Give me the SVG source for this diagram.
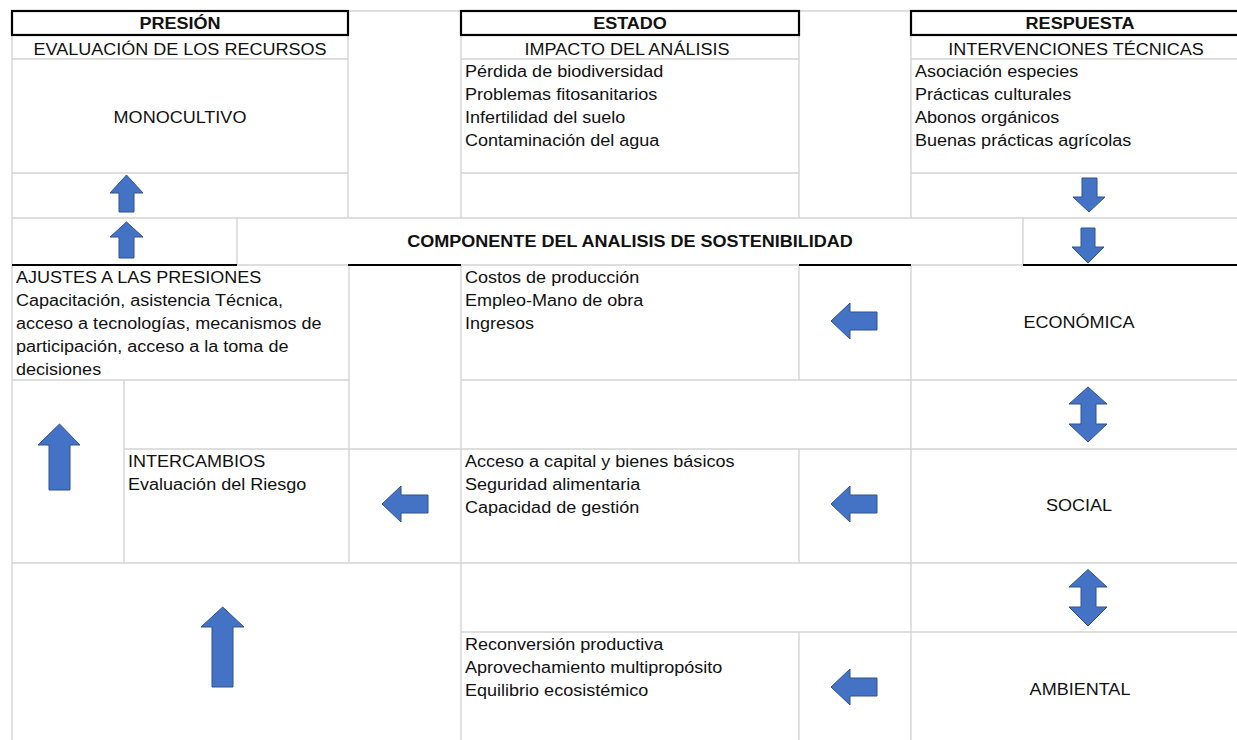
<svg xmlns="http://www.w3.org/2000/svg" width="1237" height="740" viewBox="0 0 1237 740">
<style>
.g{stroke:#d4d4d4;stroke-width:1.4;fill:none}
.k{stroke:#000;stroke-width:2.2;fill:none}
.t{font-family:"Liberation Sans",Arial,sans-serif;font-size:16.4px;fill:#111}
.b{font-weight:bold}
.c{text-anchor:middle}
.arr{fill:#4472C4;stroke:#2F528F;stroke-width:1}
</style>
<rect width="1237" height="740" fill="#fff"/>
<g id="grid">
<path class="g" d="M12 11H1237M12 59H348M461 59H799M911 59H1237M12 173H348M461 173H799M911 173H1237M12 218H1237M237 265H348M461 265H799M911 265H1023M12 380H349M461 380H1237M124 449H1237M12 563H1237M461 632H1237"/>
<path class="g" d="M12 11V740M348 35V218M349 265V563M461 35V218M461 265V740M799 35V218M799 265V380M799 449V563M799 632V740M911 35V218M911 265V740M124 380V563M237 218V265M1023 218V265"/>
<path class="k" d="M12 265H237M348 265H461M799 265H911M1023 265H1237"/>
</g>
<g id="presion-header">
<rect class="k" x="12" y="11" width="336" height="24"/>
<text class="t b c" transform="translate(180,29) scale(1.1,1)">PRESIÓN</text>
</g>
<g id="estado-header">
<rect class="k" x="461" y="11" width="338" height="24"/>
<text class="t b c" transform="translate(630,29) scale(1.1,1)">ESTADO</text>
</g>
<g id="respuesta-header">
<rect class="k" x="911" y="11" width="345" height="24"/>
<text class="t b c" transform="translate(1080,29) scale(1.1,1)">RESPUESTA</text>
</g>
<g id="evaluacion">
<text class="t c" transform="translate(180,55) scale(1.1,1)">EVALUACIÓN DE LOS RECURSOS</text>
</g>
<g id="impacto">
<text class="t c" transform="translate(627,55) scale(1.1,1)">IMPACTO DEL ANÁLISIS</text>
</g>
<g id="intervenciones">
<text class="t c" transform="translate(1076,55) scale(1.1,1)">INTERVENCIONES TÉCNICAS</text>
</g>
<g id="monocultivo">
<text class="t c" transform="translate(180,123) scale(1.1,1)">MONOCULTIVO</text>
</g>
<g id="impactos-lista">
<g transform="translate(465,77) scale(1.1,1)">
<text class="t" x="0" y="0">Pérdida de biodiversidad</text>
<text class="t" x="0" y="23">Problemas fitosanitarios</text>
<text class="t" x="0" y="46">Infertilidad del suelo</text>
<text class="t" x="0" y="69">Contaminación del agua</text>
</g>
</g>
<g id="intervenciones-lista">
<g transform="translate(915,77) scale(1.1,1)">
<text class="t" x="0" y="0">Asociación especies</text>
<text class="t" x="0" y="23">Prácticas culturales</text>
<text class="t" x="0" y="46">Abonos orgánicos</text>
<text class="t" x="0" y="69">Buenas prácticas agrícolas</text>
</g>
</g>
<g id="componente">
<text class="t b c" transform="translate(630,247) scale(1.1,1)">COMPONENTE DEL ANALISIS DE SOSTENIBILIDAD</text>
</g>
<g id="ajustes">
<g transform="translate(16,283) scale(1.1,1)">
<text class="t" x="0" y="0">AJUSTES A LAS PRESIONES</text>
<text class="t" x="0" y="23">Capacitación, asistencia Técnica,</text>
<text class="t" x="0" y="46">acceso a tecnologías, mecanismos de</text>
<text class="t" x="0" y="69">participación, acceso a la toma de</text>
<text class="t" x="0" y="92">decisiones</text>
</g>
</g>
<g id="economica-lista">
<g transform="translate(465,283) scale(1.1,1)">
<text class="t" x="0" y="0">Costos de producción</text>
<text class="t" x="0" y="23">Empleo-Mano de obra</text>
<text class="t" x="0" y="46">Ingresos</text>
</g>
</g>
<g id="economica">
<text class="t c" transform="translate(1079,328) scale(1.1,1)">ECONÓMICA</text>
</g>
<g id="intercambios">
<g transform="translate(128,467) scale(1.1,1)">
<text class="t" x="0" y="0">INTERCAMBIOS</text>
<text class="t" x="0" y="23">Evaluación del Riesgo</text>
</g>
</g>
<g id="social-lista">
<g transform="translate(465,467) scale(1.1,1)">
<text class="t" x="0" y="0">Acceso a capital y bienes básicos</text>
<text class="t" x="0" y="23">Seguridad alimentaria</text>
<text class="t" x="0" y="46">Capacidad de gestión</text>
</g>
</g>
<g id="social">
<text class="t c" transform="translate(1079,511) scale(1.1,1)">SOCIAL</text>
</g>
<g id="ambiental-lista">
<g transform="translate(465,650) scale(1.1,1)">
<text class="t" x="0" y="0">Reconversión productiva</text>
<text class="t" x="0" y="23">Aprovechamiento multipropósito</text>
<text class="t" x="0" y="46">Equilibrio ecosistémico</text>
</g>
</g>
<g id="ambiental">
<text class="t c" transform="translate(1080,695) scale(1.1,1)">AMBIENTAL</text>
</g>
<g id="connectors">
<polygon class="arr" points="126.5,175 143,193 134,193 134,212 119,212 119,193 110,193"/>
<polygon class="arr" points="126.5,222 143,237 134,237 134,258 119,258 119,237 110,237"/>
<polygon class="arr" points="1082,178 1097,178 1097,197 1105,197 1089,212 1073,197 1082,197"/>
<polygon class="arr" points="1081,228 1095,228 1095,247 1104,247 1088,263 1072,247 1081,247"/>
<polygon class="arr" points="59.5,424 80,445 70,445 70,490 49,490 49,445 38,445"/>
<polygon class="arr" points="222.7,607 244,627 233,627 233,687 212,687 212,627 201,627"/>
<polygon class="arr" points="831,321 850,303 850,312 877,312 877,330 850,330 850,339"/>
<polygon class="arr" points="382,504 401,486 401,495 428,495 428,513 401,513 401,522"/>
<polygon class="arr" points="831,504 850,486 850,495 877,495 877,513 850,513 850,522"/>
<polygon class="arr" points="831,687 850,669 850,678 877,678 877,696 850,696 850,705"/>
<polygon class="arr" points="1088,387 1107,404 1096,404 1096,424 1107,424 1088,442 1069,424 1081,424 1081,404 1069,404"/>
<polygon class="arr" points="1088,569.5 1107,587 1096,587 1096,607 1107,607 1088,626 1069,607 1081,607 1081,587 1069,587"/>
</g>
</svg>
